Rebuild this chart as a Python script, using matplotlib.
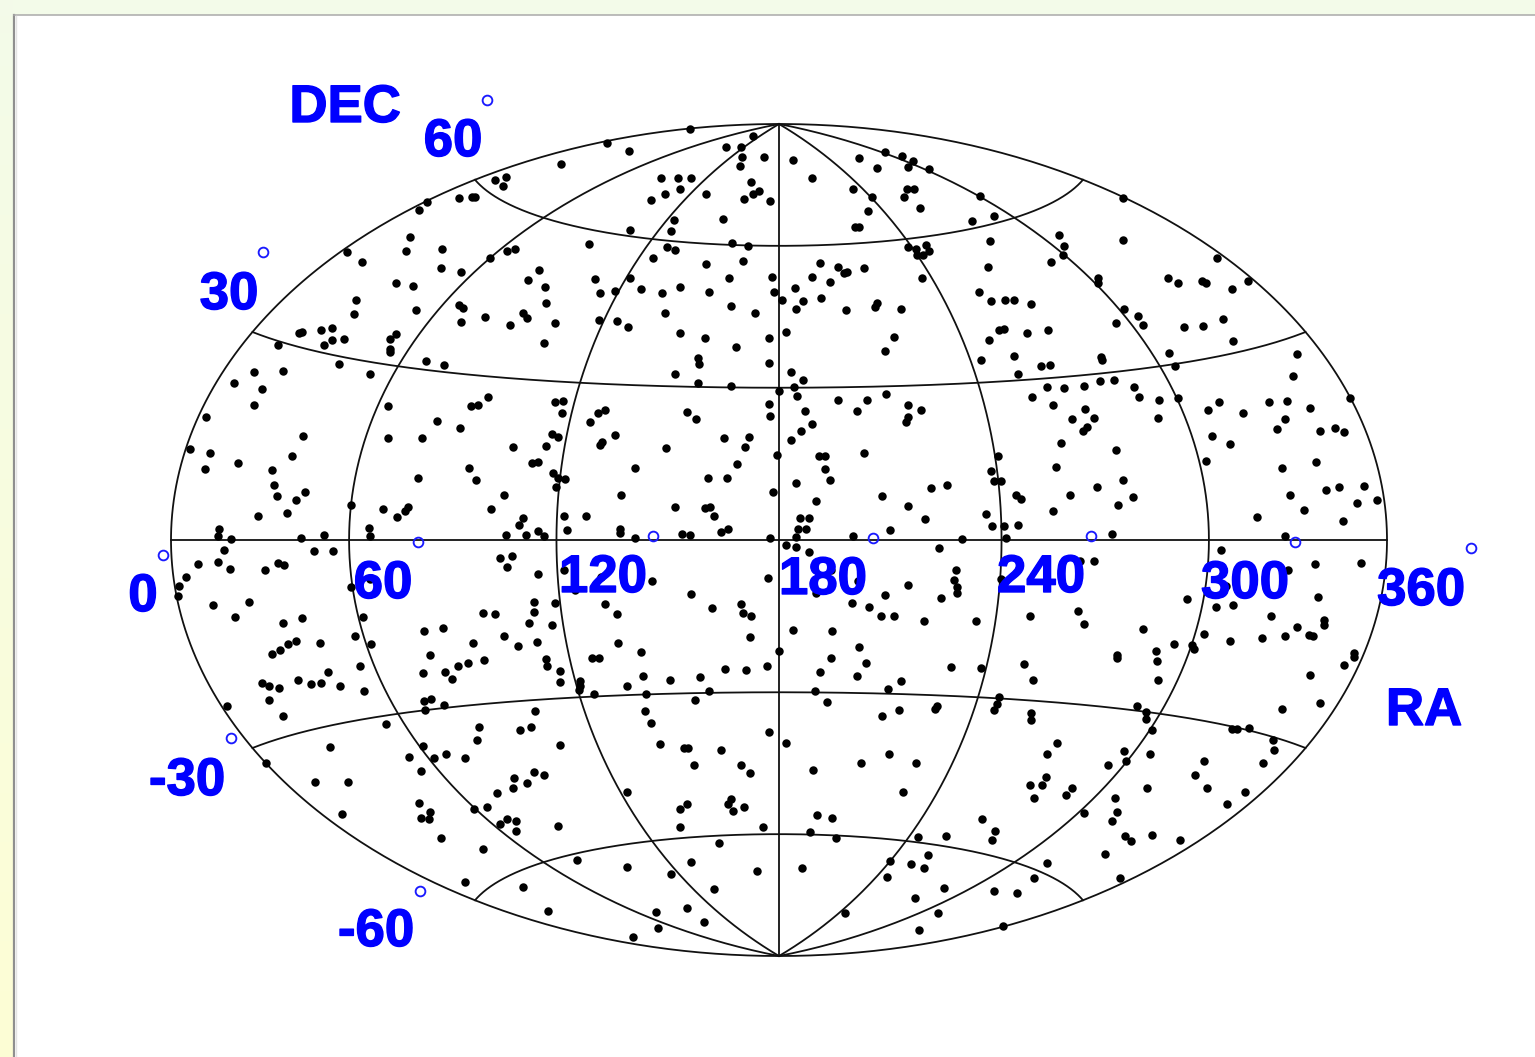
"""Sky map of sources on a Hammer-Aitoff grid (RA / DEC)."""
import matplotlib
matplotlib.use("Agg")
import matplotlib.patheffects as pe
import matplotlib.pyplot as plt
import numpy as np

WIDTH, HEIGHT = 1535, 1057

# plate centre and semi-axes of the all-sky ellipse
CX, CY, RX, RY = 779, 540, 608, 416

# source positions, grouped by sky region
north_west = [(347, 252), (362, 262), (396, 283), (356, 300), (354, 314), (299, 333), (302, 332),
              (321, 330), (332, 328), (344, 339), (332, 340), (324, 345), (278, 345), (390, 339),
              (396, 334), (390, 349)]
north_mid = [(690, 129), (607, 143), (629, 151), (561, 164), (495, 180), (506, 177), (503, 186),
             (427, 202), (419, 210), (459, 198), (472, 197), (475, 197), (410, 237), (406, 251),
             (442, 249), (441, 268), (413, 286), (461, 272), (416, 310), (490, 258), (507, 251),
             (515, 249), (539, 270), (528, 280), (545, 287), (546, 303), (459, 305), (463, 308),
             (461, 322), (485, 317), (510, 325), (523, 313), (527, 318), (555, 323), (544, 343),
             (426, 361), (444, 365), (589, 244), (630, 230), (651, 200), (661, 178), (665, 194),
             (678, 178), (680, 189), (691, 178), (706, 194), (726, 147), (741, 147), (753, 136),
             (742, 157), (740, 166), (764, 157), (751, 182), (759, 191), (753, 194), (744, 199),
             (770, 201), (674, 220), (671, 231), (723, 219), (732, 243), (748, 246), (667, 247),
             (675, 250), (653, 258), (706, 264), (743, 261), (630, 278), (595, 279), (600, 293),
             (615, 291), (641, 289), (662, 293), (680, 287), (709, 292), (729, 278), (772, 277),
             (774, 292), (731, 306), (755, 313), (665, 313), (599, 320), (617, 321), (628, 327),
             (680, 333), (705, 338), (769, 338), (736, 347), (698, 358), (699, 364), (769, 363),
             (675, 374), (698, 383), (731, 386), (779, 391)]
north_east = [(793, 160), (812, 178), (859, 158), (877, 168), (885, 152), (902, 156), (913, 161),
              (908, 167), (929, 169), (853, 189), (872, 197), (868, 211), (907, 189), (914, 189),
              (904, 197), (920, 208), (855, 227), (859, 227), (980, 196), (994, 216), (972, 221),
              (1123, 198), (1123, 240), (1059, 235), (1064, 246), (1063, 255), (1051, 262),
              (990, 241), (988, 267), (908, 247), (916, 249), (926, 245), (929, 251), (917, 255),
              (923, 255), (820, 263), (838, 267), (847, 272), (844, 273), (864, 268), (812, 277),
              (830, 282), (922, 278), (795, 288), (782, 300), (803, 301), (796, 309), (821, 298),
              (846, 310), (877, 303), (875, 307), (901, 309), (786, 332), (894, 337), (885, 351),
              (979, 292), (991, 301), (1005, 300), (1014, 300), (1031, 304), (1098, 278),
              (1098, 283), (1124, 309), (1138, 316), (1143, 325), (1116, 323), (1048, 330),
              (1027, 333), (1004, 329), (999, 330), (989, 340), (981, 360), (1014, 356),
              (1018, 374), (1041, 366), (1050, 365), (1101, 357), (1102, 360), (791, 372),
              (803, 380), (794, 387), (797, 396), (886, 394), (838, 400), (867, 400), (1032, 397),
              (1047, 387), (1064, 388), (1084, 386), (1100, 381), (1114, 380), (1134, 387),
              (1139, 397), (1159, 400)]
north_far = [(1217, 258), (1248, 281), (1168, 278), (1178, 283), (1202, 281), (1206, 283),
             (1232, 289), (1184, 327), (1203, 326), (1223, 319), (1233, 341), (1169, 353),
             (1175, 366), (1297, 354), (1293, 376)]
equator_west = [(339, 364), (370, 374), (254, 372), (283, 371), (234, 383), (262, 389), (254, 405),
                (206, 417), (388, 406), (388, 438), (422, 438), (437, 421), (460, 428), (471, 406),
                (478, 405), (488, 397), (390, 352), (303, 436), (292, 456), (190, 449), (210, 453),
                (205, 469), (238, 463), (272, 470), (274, 485), (277, 496), (305, 492), (296, 500),
                (287, 513), (258, 516), (513, 447), (546, 446), (532, 463), (538, 462), (469, 468),
                (476, 480), (418, 478), (504, 495), (491, 509), (523, 518), (519, 525), (538, 531),
                (544, 536), (526, 535), (506, 535), (408, 507), (405, 511), (397, 517), (383, 509),
                (351, 505), (369, 528), (370, 536), (324, 535), (301, 538), (219, 529), (218, 536),
                (231, 539), (224, 550), (314, 551), (333, 551), (198, 564), (218, 562), (230, 569),
                (186, 577), (179, 586), (178, 596), (265, 570), (278, 563), (284, 565), (213, 605),
                (249, 602), (235, 617), (283, 623), (302, 618), (370, 579), (351, 587), (363, 617),
                (355, 636), (371, 644), (320, 643), (296, 641), (288, 644), (424, 631), (443, 628),
                (483, 613), (495, 614), (500, 558), (512, 556), (507, 567), (538, 574), (534, 602),
                (534, 612), (529, 623), (504, 636), (537, 642), (518, 646), (473, 643)]
equator_mid = [(555, 402), (563, 401), (562, 413), (598, 413), (605, 410), (590, 422), (687, 412),
               (696, 419), (615, 435), (602, 442), (600, 445), (552, 434), (558, 437), (666, 448),
               (724, 438), (749, 437), (745, 447), (737, 464), (635, 468), (553, 473), (558, 478),
               (565, 479), (556, 487), (708, 478), (727, 478), (621, 495), (773, 492), (777, 455),
               (770, 416), (769, 404), (805, 411), (812, 424), (801, 431), (791, 440), (857, 411),
               (908, 405), (921, 410), (908, 417), (906, 422), (864, 453), (819, 456), (825, 456),
               (825, 469), (830, 480), (796, 483), (882, 496), (816, 501), (908, 506), (931, 488),
               (947, 485), (925, 519), (800, 518), (809, 518), (798, 529), (806, 529), (796, 537),
               (796, 547), (786, 545), (770, 538), (809, 552), (853, 536), (890, 530), (939, 548),
               (831, 570), (858, 581), (816, 593), (908, 585), (885, 595), (941, 598), (852, 603),
               (869, 607), (881, 616), (894, 616), (924, 621), (793, 630), (832, 631), (779, 651),
               (859, 647), (831, 658), (866, 663), (820, 672), (857, 676), (767, 666), (746, 670),
               (725, 669), (700, 677), (670, 680), (643, 676), (641, 652), (618, 643), (552, 625),
               (555, 603), (617, 614), (605, 604), (575, 590), (601, 577), (564, 570), (652, 581),
               (691, 594), (712, 608), (741, 604), (743, 613), (751, 616), (750, 637), (768, 578),
               (564, 516), (586, 516), (567, 530), (620, 529), (620, 533), (635, 538), (675, 507),
               (705, 508), (710, 507), (714, 516), (682, 534), (690, 535), (721, 532), (728, 529)]
equator_east = [(1158, 418), (1178, 398), (1053, 405), (1085, 409), (1072, 419), (1094, 418),
                (1087, 427), (1083, 431), (1061, 443), (1116, 450), (1056, 467), (1123, 480),
                (1097, 487), (1070, 495), (1133, 497), (1118, 505), (1053, 511), (1112, 534),
                (998, 456), (991, 471), (994, 481), (1001, 481), (1016, 495), (1021, 499),
                (986, 514), (992, 526), (1004, 526), (1018, 525), (1006, 538), (962, 539),
                (1080, 561), (1094, 561), (956, 570), (954, 580), (957, 587), (957, 593),
                (1001, 579), (1030, 616), (976, 621), (1078, 611), (1084, 624), (1143, 629),
                (1187, 599), (1226, 586), (1216, 607), (1233, 605), (1221, 550), (1285, 536),
                (1257, 517), (1343, 521), (1304, 510), (1290, 495), (1326, 490), (1339, 487),
                (1364, 486), (1357, 503), (1377, 500), (1282, 468), (1316, 462), (1320, 431),
                (1335, 428), (1344, 432), (1310, 408), (1287, 401), (1269, 402), (1285, 419),
                (1277, 429), (1243, 413), (1219, 402), (1208, 410), (1212, 436), (1230, 444),
                (1206, 461), (1350, 398), (1288, 570), (1315, 564), (1361, 563), (1318, 597),
                (1271, 616), (1297, 627), (1324, 620), (1324, 625), (1309, 635), (1313, 636),
                (1285, 636), (1262, 638), (1230, 641), (1204, 634), (1192, 645), (1194, 649),
                (1174, 644), (1156, 651), (1157, 661), (1117, 655), (1117, 658), (1158, 680),
                (1024, 664), (1033, 680), (981, 668), (951, 667), (1354, 653), (1354, 657),
                (1344, 665), (1310, 675)]
south_west = [(272, 654), (280, 650), (262, 683), (269, 686), (279, 688), (298, 680), (311, 684),
              (321, 683), (328, 672), (340, 686), (360, 666), (364, 691), (269, 700), (283, 716),
              (227, 706), (266, 763), (330, 747), (315, 782), (348, 782), (342, 814), (386, 724),
              (430, 655), (423, 673), (445, 672), (452, 679), (458, 666), (468, 663), (484, 660),
              (546, 659), (547, 666), (560, 671), (560, 682), (592, 658), (599, 658), (580, 681),
              (580, 686), (579, 690), (594, 694), (424, 701), (431, 699), (425, 710), (444, 705),
              (535, 711), (479, 727), (520, 730), (531, 727), (477, 740), (560, 745), (423, 746),
              (409, 757), (434, 758), (446, 754), (465, 758), (421, 771), (514, 778), (513, 788),
              (527, 783), (534, 772), (544, 775), (497, 793), (419, 803), (430, 812), (421, 818),
              (429, 819), (474, 809), (487, 807), (507, 819), (500, 824), (516, 821), (516, 831),
              (558, 826), (441, 838), (483, 849), (577, 860), (465, 882), (523, 887), (548, 911)]
south_mid = [(627, 686), (646, 694), (709, 691), (695, 700), (645, 711), (651, 723), (660, 744),
             (684, 748), (688, 748), (721, 750), (769, 732), (786, 743), (694, 765), (741, 765),
             (750, 773), (627, 792), (687, 804), (680, 809), (731, 799), (728, 804), (733, 811),
             (744, 807), (680, 827), (763, 827), (719, 843), (627, 867), (691, 862), (671, 874),
             (757, 871), (802, 868), (714, 889), (656, 912), (687, 908), (704, 922), (658, 928),
             (633, 937), (901, 681), (888, 689), (815, 691), (827, 702), (882, 716), (899, 710),
             (937, 706), (935, 709), (889, 754), (861, 763), (916, 763), (813, 770), (903, 792),
             (817, 815), (832, 818), (810, 832), (836, 838), (918, 837), (946, 836), (982, 819),
             (928, 855), (911, 864), (924, 868), (890, 861), (887, 877), (944, 888), (915, 898),
             (845, 913), (938, 913), (919, 930)]
south_east = [(1320, 703), (1282, 709), (1249, 728), (1237, 729), (1232, 729), (1273, 740),
              (1274, 750), (1263, 763), (1204, 761), (1195, 775), (1207, 788), (1245, 792),
              (1227, 804), (999, 697), (997, 704), (994, 710), (1031, 713), (1031, 720),
              (1057, 743), (1047, 754), (1046, 777), (1030, 785), (1042, 785), (1034, 798),
              (1072, 788), (1066, 795), (1137, 706), (1146, 712), (1146, 719), (1152, 730),
              (1124, 751), (1126, 761), (1108, 765), (1150, 754), (1147, 788), (1115, 798),
              (1084, 813), (1117, 812), (1112, 821), (1125, 836), (1131, 841), (1152, 835),
              (1180, 840), (1105, 854), (995, 831), (992, 840), (1047, 863), (1034, 878),
              (994, 891), (1017, 893), (1120, 878), (1003, 926)]

# tick labels with their baseline anchors, and the small reference circles next to them
tick_labels = ["DEC", "60", "30", "0", "60", "120", "180", "240", "300", "360", "RA", "-30", "-60"]
label_x = [345, 453, 229, 143, 383, 603, 823, 1041, 1245, 1421, 1424, 187, 376]
label_y = [122, 156, 309, 611, 598, 592, 594, 592, 598, 605, 725, 795, 946]
circle_x = [487, 263, 163, 418, 653, 873, 1091, 1295, 1471, 231, 420]
circle_y = [100, 252, 555, 542, 536, 538, 536, 542, 548, 738, 891]

ra_grid = [0, 60, 120, 180, 240, 300, 360]
dec_grid = [-60, -30, 0, 30, 60]


def hammer(ra, dec):
    """Hammer-Aitoff projection of RA/DEC (degrees) on to plate coordinates."""
    lam = np.radians(np.asarray(ra, dtype=float) - 180.0)
    phi = np.radians(np.asarray(dec, dtype=float))
    d = np.sqrt(1 + np.cos(phi) * np.cos(lam / 2))
    return CX + RX * np.cos(phi) * np.sin(lam / 2) / d, CY - RY * np.sin(phi) / d


fig = plt.figure(figsize=(WIDTH / 100, HEIGHT / 100), dpi=100, facecolor="#f3fbe9")
ax = fig.add_axes([0, 0, 1, 1])

# page surround: pale band on top, green-to-yellow down the left side
left = np.linspace(0, 1, 64)[:, None, None]
band = (1 - left) * np.array([0.953, 0.984, 0.914]) + left * np.array([0.992, 0.996, 0.835])
ax.imshow(band, extent=(0, 13, HEIGHT, 0), aspect="auto", zorder=0)
ax.fill_between([14, WIDTH], 15, HEIGHT, color="white", lw=0, zorder=1)
ax.plot([13.8, 13.8], [15, HEIGHT], color="#8f8f8f", lw=1.6, zorder=2)
ax.plot([14, WIDTH], [15, 15], color="#aaaaaa", lw=1.1, zorder=2)
ax.plot([15.8, 15.8], [16, HEIGHT], color="#e4e4e4", lw=1.0, zorder=2)

# graticule
for ra in ra_grid:
    dec = np.linspace(-90, 90, 361)
    x, y = hammer(np.full_like(dec, ra), dec)
    ax.plot(x, y, color="#111111", lw=1.3, zorder=3)
for d0 in dec_grid:
    ra = np.linspace(0, 360, 721)
    x, y = hammer(ra, np.full_like(ra, d0))
    ax.plot(x, y, color="#111111", lw=1.3, zorder=3)

regions = [north_west, north_mid, north_east, north_far, equator_west, equator_mid,
           equator_east, south_west, south_mid, south_east]
for region in regions:
    pts = np.array(region)
    ax.scatter(pts[:, 0], pts[:, 1], s=37, color="black", lw=0, zorder=4)

ax.plot(circle_x, circle_y, "o", ms=7, mfc="none", mec="#1a1aff", mew=1.35, zorder=5)
# the original lettering is a touch heavier than Liberation bold
heavier = [pe.withStroke(linewidth=1.0, foreground="#0000ff")]
for txt, x, y in zip(tick_labels, label_x, label_y):
    ax.text(x, y, txt, color="#0000ff", fontsize=38, fontweight="bold",
            family="Liberation Sans", ha="center", va="baseline", zorder=6,
            path_effects=heavier)

ax.set_xlim(0, WIDTH)
ax.set_ylim(HEIGHT, 0)
ax.axis("off")
fig.savefig("out.png", dpi=100, facecolor=fig.get_facecolor())
